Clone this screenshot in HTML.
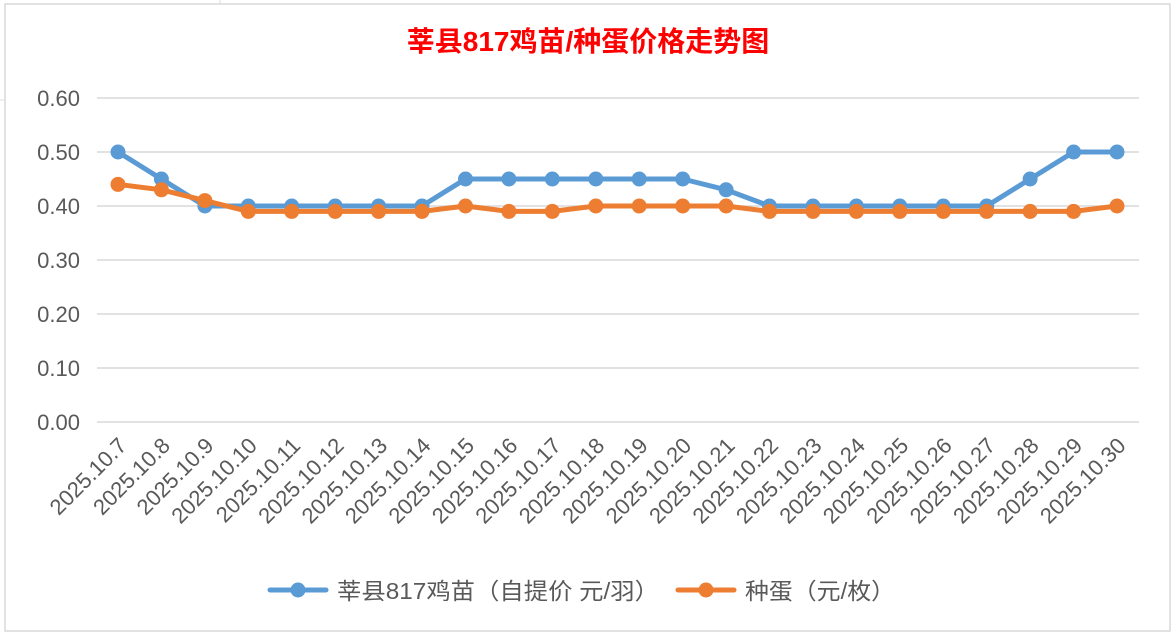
<!DOCTYPE html>
<html><head><meta charset="utf-8"><style>
html,body{margin:0;padding:0;background:#fff;width:1175px;height:635px;overflow:hidden}
svg{display:block;font-family:"Liberation Sans","Noto Sans CJK SC",sans-serif}
</style></head><body>
<svg id="c" width="1175" height="635" xmlns="http://www.w3.org/2000/svg">
<rect x="0" y="0" width="1175" height="635" fill="#fff"/>
<line x1="220" y1="0" x2="220" y2="4" stroke="#ddd"/>
<line x1="0" y1="100" x2="4" y2="100" stroke="#ddd"/>
<rect x="5" y="4" width="1165" height="627" fill="#fff" stroke="#d9d9d9" stroke-width="1.5"/>
<text x="588" y="51" text-anchor="middle" font-size="28" font-weight="bold" fill="#ff0000">莘县817鸡苗/种蛋价格走势图</text>
<g id="g"></g>
</svg>
<script>
var g=document.getElementById('g'),h='';
var x0=118,dx=(1117-118)/23,y0=422,py=540;
function Y(v){return y0-v*py;}
for(var i=0;i<=6;i++){var y=Y(i/10);h+='<line x1="97" x2="1139" y1="'+y+'" y2="'+y+'" stroke="#d9d9d9" stroke-width="1.5"/>';
h+='<text x="80" y="'+(y+8)+'" text-anchor="end" font-size="22" fill="#595959">'+(i/10).toFixed(2)+'</text>';}
var b=[.50,.45,.40,.40,.40,.40,.40,.40,.45,.45,.45,.45,.45,.45,.43,.40,.40,.40,.40,.40,.40,.45,.50,.50];
var o=[.44,.43,.41,.39,.39,.39,.39,.39,.40,.39,.39,.40,.40,.40,.40,.39,.39,.39,.39,.39,.39,.39,.39,.40];
function s(d,c){var p=d.map(function(v,i){return (x0+i*dx).toFixed(1)+','+Y(v).toFixed(1)}).join(' ');
var r='<polyline points="'+p+'" fill="none" stroke="'+c+'" stroke-width="5" stroke-linejoin="round"/>';
d.forEach(function(v,i){r+='<circle cx="'+(x0+i*dx).toFixed(1)+'" cy="'+Y(v).toFixed(1)+'" r="7.5" fill="'+c+'"/>'});return r;}
h+=s(b,'#5b9bd5')+s(o,'#ed7d31');
for(var i=0;i<24;i++){var x=x0+i*dx+10,y=447;
h+='<text transform="translate('+x.toFixed(1)+','+y+') rotate(-45)" text-anchor="end" font-size="22" fill="#595959">2025.10.'+(7+i)+'</text>';}
h+='<line x1="270" x2="326" y1="590" y2="590" stroke="#5b9bd5" stroke-width="5" stroke-linecap="round"/><circle cx="298" cy="590" r="7.5" fill="#5b9bd5"/>';
h+='<text x="337" y="599" font-size="23" fill="#595959" textLength="322" lengthAdjust="spacingAndGlyphs">莘县817鸡苗（自提价 元/羽）</text>';
h+='<line x1="678" x2="734" y1="590" y2="590" stroke="#ed7d31" stroke-width="5" stroke-linecap="round"/><circle cx="706" cy="590" r="7.5" fill="#ed7d31"/>';
h+='<text x="745" y="599" font-size="23" fill="#595959" textLength="150" lengthAdjust="spacingAndGlyphs">种蛋（元/枚）</text>';
g.innerHTML=h;
</script>
</body></html>
